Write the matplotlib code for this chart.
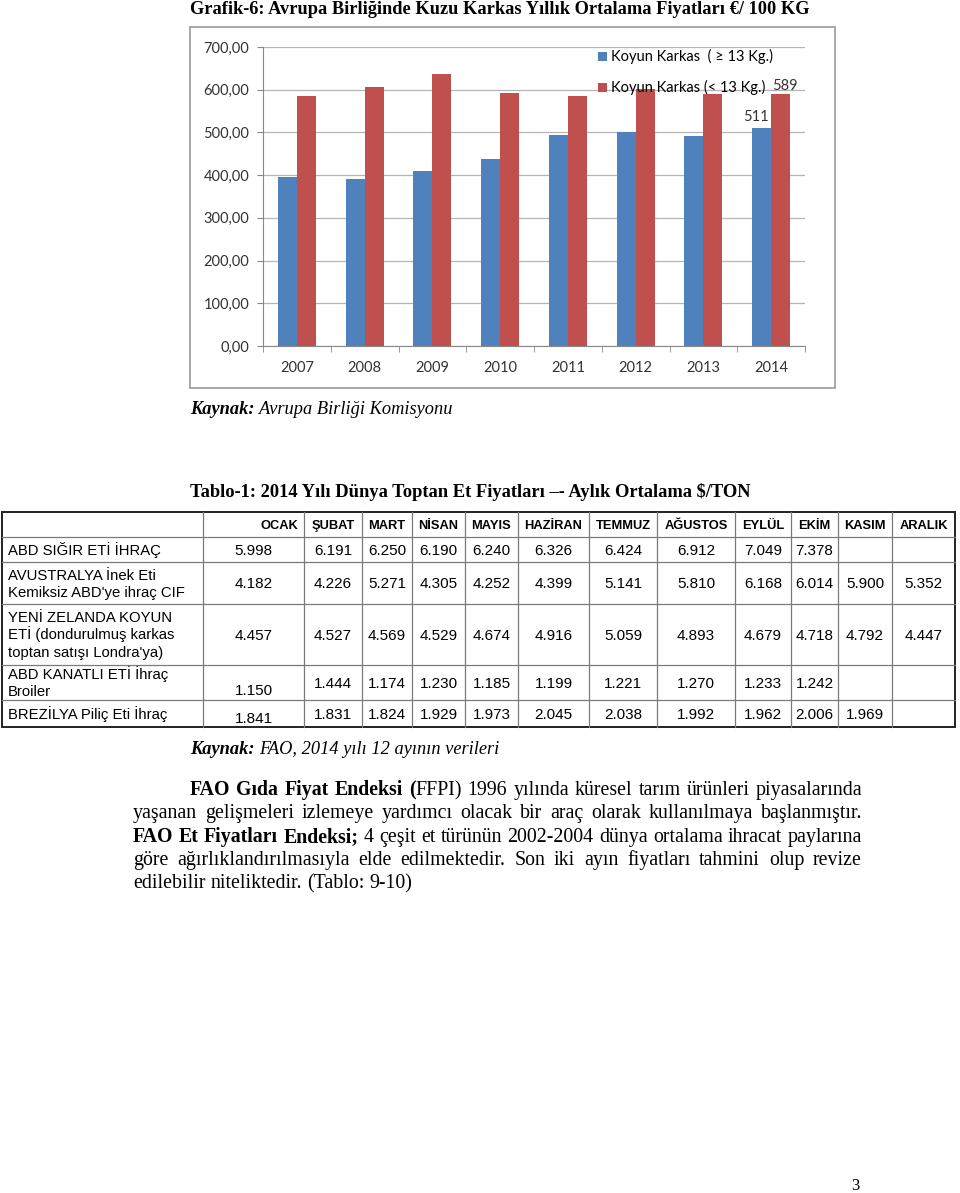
import numpy as np
import matplotlib.pyplot as plt
from matplotlib.patches import Rectangle

# Grafik-6 verileri (€/100 KG)
years = ['2007', '2008', '2009', '2010', '2011', '2012', '2013', '2014']
koyun_buyuk = [395, 392, 409, 437, 493, 500, 492, 511]   # >= 13 kg
koyun_kucuk = [586, 607, 636, 593, 586, 602, 589, 589]   # < 13 kg
seri_adlari = ['Koyun Karkas  ( ≥ 13 Kg.)', 'Koyun Karkas (< 13 Kg.)']
y_ticks = [0, 100, 200, 300, 400, 500, 600, 700]

# Tablo-1 verileri ($/TON), None = boş hücre
aylar = ['OCAK', 'ŞUBAT', 'MART', 'NİSAN', 'MAYIS', 'HAZİRAN', 'TEMMUZ',
         'AĞUSTOS', 'EYLÜL', 'EKİM', 'KASIM', 'ARALIK']
satir_adlari = ['ABD SIĞIR ETİ İHRAÇ',
                "AVUSTRALYA İnek Eti\nKemiksiz ABD'ye ihraç CIF",
                "YENİ ZELANDA KOYUN\nETİ (dondurulmuş karkas\ntoptan satışı Londra'ya)",
                'ABD KANATLI ETİ İhraç\nBroiler',
                'BREZİLYA Piliç Eti İhraç']
sigir = [5998, 6191, 6250, 6190, 6240, 6326, 6424, 6912, 7049, 7378, None, None]
avustralya = [4182, 4226, 5271, 4305, 4252, 4399, 5141, 5810, 6168, 6014, 5900, 5352]
zelanda = [4457, 4527, 4569, 4529, 4674, 4916, 5059, 4893, 4679, 4718, 4792, 4447]
kanatli = [1150, 1444, 1174, 1230, 1185, 1199, 1221, 1270, 1233, 1242, None, None]
brezilya = [1841, 1831, 1824, 1929, 1973, 2045, 2038, 1992, 1962, 2006, 1969, None]

# Metin
baslik = 'Grafik-6: Avrupa Birliğinde Kuzu Karkas Yıllık Ortalama Fiyatları €/ 100 KG'
kaynak1 = 'Avrupa Birliği Komisyonu'
tablo_baslik = 'Tablo-1: 2014 Yılı Dünya Toptan Et Fiyatları –- Aylık Ortalama $/TON'
kaynak2 = 'FAO, 2014 yılı 12 ayının verileri'
paragraf = ['FAO Gıda Fiyat Endeksi (FFPI) 1996 yılında küresel tarım ürünleri piyasalarında',
            'yaşanan gelişmeleri izlemeye yardımcı olacak bir araç olarak kullanılmaya başlanmıştır.',
            'FAO Et Fiyatları Endeksi; 4 çeşit et türünün 2002-2004 dünya ortalama ihracat paylarına',
            'göre ağırlıklandırılmasıyla elde edilmektedir. Son iki ayın fiyatları tahmini olup revize',
            'edilebilir niteliktedir. (Tablo: 9-10)']
kalin_bas = ['FAO Gıda Fiyat Endeksi (', '', 'FAO Et Fiyatları Endeksi;', '', '']

SERIF = 'Liberation Serif'
SANS = 'Liberation Sans'
CHART_FONT = ['Lato', 'DejaVu Sans']

fig = plt.figure(figsize=(9.6, 11.93), dpi=100)
W, H = 960, 1193
pg = fig.add_axes([0, 0, 1, 1])
pg.set_xlim(0, W)
pg.set_ylim(H, 0)
pg.axis('off')
renderer = fig.canvas.get_renderer()


def genislik(t):
    return t.get_window_extent(renderer=renderer).width


def bosluk(size, **kw):
    a = pg.text(0, 0, 'x x', fontsize=size, family=SERIF, **kw)
    b = pg.text(0, 0, 'xx', fontsize=size, family=SERIF, **kw)
    w = genislik(a) - genislik(b)
    a.remove()
    b.remove()
    return w


def yaz_parcalar(x, y, parcalar, size):
    sp = bosluk(size)
    for txt, weight, style in parcalar:
        t = pg.text(x, y, txt, fontsize=size, fontweight=weight, fontstyle=style,
                    family=SERIF, va='baseline', color='black')
        x += genislik(t) + sp


# Başlıklar
pg.text(190, 14, baslik, fontsize=13.2, fontweight='bold', family=SERIF, va='baseline')
yaz_parcalar(190, 414, [('Kaynak:', 'bold', 'italic'), (kaynak1, 'normal', 'italic')], 13.2)
pg.text(190, 497, tablo_baslik, fontsize=13.3, fontweight='bold', family=SERIF, va='baseline')
yaz_parcalar(190, 754, [('Kaynak:', 'bold', 'italic'), (kaynak2, 'normal', 'italic')], 13.2)

# Grafik çerçevesi
pg.add_patch(Rectangle((190, 27), 645, 361, fill=False, ec='#9a9a9a', lw=1.2))

# Grafik
ax = fig.add_axes([263 / W, 1 - 346 / H, 542 / W, 299 / H])
x = np.arange(len(years))
w = 0.28
ax.bar(x - w / 2, koyun_buyuk, w, color='#4F81BD', label=seri_adlari[0], zorder=3)
ax.bar(x + w / 2, koyun_kucuk, w, color='#C0504D', label=seri_adlari[1], zorder=3)
ax.annotate(str(koyun_buyuk[-1]), (x[-1] - w / 2, koyun_buyuk[-1]), xytext=(-4, 3),
            textcoords='offset points', ha='center', va='bottom', fontsize=10.5,
            family=CHART_FONT, color='#333333')
ax.annotate(str(koyun_kucuk[-1]), (x[-1] + w / 2, koyun_kucuk[-1]), xytext=(3, 1),
            textcoords='offset points', ha='center', va='bottom', fontsize=10.5,
            family=CHART_FONT, color='#333333')
ax.set_xlim(-0.5, len(years) - 0.5)
ax.set_ylim(0, 700)
ax.set_yticks(y_ticks)
ax.set_yticklabels([f'{v:.2f}'.replace('.', ',') for v in y_ticks],
                   family=CHART_FONT, fontsize=10.5, color='#333333')
ax.set_xticks(x)
ax.set_xticklabels(years, family=CHART_FONT, fontsize=10.5, color='#333333')
ax.set_xticks(np.arange(-0.5, len(years)), minor=True)
ax.tick_params(axis='x', which='major', length=0, pad=11)
ax.tick_params(axis='x', which='minor', length=4, color='#888888', direction='out')
ax.tick_params(axis='y', length=4, color='#888888', pad=6)
ax.grid(axis='y', color='#b5b5b5', lw=0.9, zorder=0)
for s in ['top', 'right']:
    ax.spines[s].set_visible(False)
for s in ['left', 'bottom']:
    ax.spines[s].set_color('#888888')
ax.legend(loc='upper left', bbox_to_anchor=(591 / W, 1 - 42 / H), bbox_transform=fig.transFigure,
          frameon=False, handlelength=0.6, handleheight=0.6, handletextpad=0.3,
          labelspacing=1.1, borderpad=0, prop={'family': CHART_FONT, 'size': 10.5})

# Tablo
row_y = [512, 537, 562, 604, 665, 700, 727]
col_x = [2, 203, 304, 362, 412, 465, 518, 589, 657, 735, 791, 838, 892, 955]
for yy in row_y[1:-1]:
    pg.plot([col_x[0], col_x[-1]], [yy, yy], color='#7a7a7a', lw=0.9)
for xx in col_x[1:-1]:
    pg.plot([xx, xx], [row_y[0], row_y[-1]], color='#7a7a7a', lw=0.9)
pg.add_patch(Rectangle((col_x[0], row_y[0]), col_x[-1] - col_x[0], row_y[-1] - row_y[0],
                       fill=False, ec='#222222', lw=1.4))

hy = (row_y[0] + row_y[1]) / 2 + 4.6
for j, ay in enumerate(aylar):
    if j == 0:
        pg.text(col_x[2] - 6, hy, ay, ha='right', va='baseline', fontsize=9.3,
                fontweight='bold', family=SANS)
    else:
        pg.text((col_x[1 + j] + col_x[2 + j]) / 2, hy, ay, ha='center', va='baseline',
                fontsize=9.3, fontweight='bold', family=SANS)

degerler = [sigir, avustralya, zelanda, kanatli, brezilya]
ocak_kayma = [0, 0, 0, 7, 4]
for i, (ad, satir) in enumerate(zip(satir_adlari, degerler)):
    cy = (row_y[1 + i] + row_y[2 + i]) / 2
    parcalar = ad.split('\n')
    n = len(parcalar)
    for k, p in enumerate(parcalar):
        pg.text(8, cy + (k - (n - 1) / 2) * 17 + 5, p, va='baseline', fontsize=10.7, family=SANS)
    for j, v in enumerate(satir):
        if v is None:
            continue
        dy = ocak_kayma[i] if j == 0 else 0
        pg.text((col_x[1 + j] + col_x[2 + j]) / 2, cy + 5.5 + dy, f'{v:,}'.replace(',', '.'),
                ha='center', va='baseline', fontsize=11, family=SANS)

# Paragraf (iki yana yaslı)
PS = 14.3
sp = bosluk(PS)
for i, (satir, bas) in enumerate(zip(paragraf, kalin_bas)):
    n = len(bas)
    y = 790 + 23.3 * i + 5
    kelimeler = []
    pos = 0
    for kel in satir.split(' '):
        s, e = pos, pos + len(kel)
        pos = e + 1
        par = []
        if s < n:
            par.append((kel[:min(n, e) - s], 'bold'))
        if e > n:
            par.append((kel[max(n, s) - s:], 'normal'))
        objs = []
        for txt, wt in par:
            t = pg.text(0, y, txt, fontsize=PS, fontweight=wt, family=SERIF, va='baseline')
            objs.append((t, genislik(t)))
        kelimeler.append(objs)
    x_sol = 190 if i == 0 else 133
    x_sag = 862
    toplam = sum(wd for k in kelimeler for _, wd in k)
    if i == len(paragraf) - 1:
        gap = sp
    else:
        gap = (x_sag - x_sol - toplam) / (len(kelimeler) - 1)
    xx = x_sol
    for k in kelimeler:
        for t, wd in k:
            t.set_x(xx)
            xx += wd
        xx += gap

pg.text(855, 1190, '3', fontsize=12, family=SERIF, va='baseline', ha='center')

fig.savefig('out.png', dpi=100)
